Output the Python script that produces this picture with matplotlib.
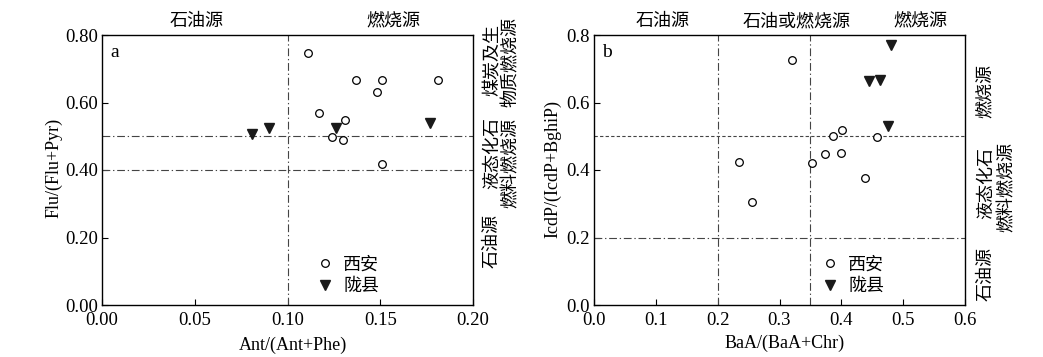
import matplotlib
matplotlib.use('Agg')
import matplotlib.pyplot as plt

plt.rcParams['font.family'] = ['Liberation Serif', 'Noto Sans CJK SC']

# panel a data
a_xian_x = [0.111, 0.117, 0.137, 0.151, 0.148, 0.181, 0.131, 0.124, 0.130, 0.151]
a_xian_y = [0.746, 0.568, 0.667, 0.667, 0.632, 0.667, 0.548, 0.499, 0.489, 0.418]
a_long_x = [0.081, 0.090, 0.126, 0.177]
a_long_y = [0.508, 0.523, 0.523, 0.538]

# panel b data
b_xian_x = [0.320, 0.234, 0.256, 0.352, 0.373, 0.387, 0.401, 0.399, 0.457, 0.438]
b_xian_y = [0.725, 0.424, 0.306, 0.420, 0.446, 0.501, 0.518, 0.450, 0.499, 0.376]
b_long_x = [0.480, 0.445, 0.462, 0.476]
b_long_y = [0.771, 0.663, 0.668, 0.530]

cjk = ['Noto Sans CJK SC']
dashdot = (0, (7, 2.5, 1.2, 2.5))
lc = '#444444'

fig = plt.figure(figsize=(10.43, 3.57), dpi=100)
W, H = 1043, 357
ax1 = fig.add_axes([102 / W, 1 - 305 / H, 371 / W, 270 / H])
ax2 = fig.add_axes([594 / W, 1 - 305 / H, 371 / W, 270 / H])

for ax in (ax1, ax2):
    ax.tick_params(direction='in', labelsize=13.5, length=4, width=0.8)
    ax.tick_params(axis='y', pad=3)
    ax.tick_params(axis='x', pad=5)
    for s in ax.spines.values():
        s.set_linewidth(1.0)

# panel a
ax1.axvline(0.1, color=lc, lw=0.8, ls=dashdot)
ax1.axhline(0.5, color=lc, lw=0.8, ls=dashdot)
ax1.axhline(0.4, color=lc, lw=0.8, ls=dashdot)
ax1.plot(a_xian_x, a_xian_y, 'o', mfc='white', mec='black', ms=5.5, mew=0.9, label='西安')
ax1.plot(a_long_x, a_long_y, 'v', color='#1a1a1a', ms=7.5, label='陇县')
ax1.set_xlim(0, 0.2)
ax1.set_ylim(0, 0.8)
ax1.set_xticks([0, 0.05, 0.1, 0.15, 0.2])
ax1.set_xticklabels(['0.00', '0.05', '0.10', '0.15', '0.20'])
ax1.set_yticks([0, 0.2, 0.4, 0.6, 0.8])
ax1.set_yticklabels(['0.00', '0.20', '0.40', '0.60', '0.80'])
ax1.set_xlabel('Ant/(Ant+Phe)', fontsize=13, va='center')
ax1.set_ylabel('Flu/(Flu+Pyr)', fontsize=13, va='center')
ax1.xaxis.set_label_coords(0.515, -0.148)
ax1.yaxis.set_label_coords(-0.13, 0.509)
ax1.text(0.022, 0.937, 'a', transform=ax1.transAxes, fontsize=14, va='center')
ax1.legend(loc='lower left', bbox_to_anchor=(0.519, -0.023), frameon=False,
           prop={'family': cjk, 'size': 13}, handletextpad=0.2, labelspacing=0.2,
           handlelength=1.6)

# panel b
ax2.axvline(0.2, color=lc, lw=0.8, ls=dashdot)
ax2.axvline(0.35, color=lc, lw=0.8, ls=dashdot)
ax2.axhline(0.5, color=lc, lw=0.8, ls=(0, (3, 2)))
ax2.axhline(0.2, color=lc, lw=0.8, ls=dashdot)
ax2.plot(b_xian_x, b_xian_y, 'o', mfc='white', mec='black', ms=5.5, mew=0.9, label='西安')
ax2.plot(b_long_x, b_long_y, 'v', color='#1a1a1a', ms=7.5, label='陇县')
ax2.set_xlim(0, 0.6)
ax2.set_ylim(0, 0.8)
ax2.set_xticks([0, 0.1, 0.2, 0.3, 0.4, 0.5, 0.6])
ax2.set_yticks([0, 0.2, 0.4, 0.6, 0.8])
ax2.set_xlabel('BaA/(BaA+Chr)', fontsize=13, va='center')
ax2.set_ylabel('IcdP/(IcdP+BghiP)', fontsize=13, va='center')
ax2.xaxis.set_label_coords(0.515, -0.141)
ax2.yaxis.set_label_coords(-0.11, 0.505)
ax2.text(0.022, 0.937, 'b', transform=ax2.transAxes, fontsize=14, va='center')
ax2.legend(loc='lower left', bbox_to_anchor=(0.554, -0.023), frameon=False,
           prop={'family': cjk, 'size': 13}, handletextpad=0.2, labelspacing=0.2,
           handlelength=1.6)

# region labels (figure pixel coords)
def ftext(x, y, s, rot=0, size=13):
    fig.text(x / W, 1 - y / H, s, family=cjk, fontsize=size, rotation=rot,
             ha='center', va='center')

ftext(197, 21, '石油源')
ftext(393, 21, '燃烧源')
ftext(663, 21, '石油源')
ftext(797, 21, '石油或燃烧源')
ftext(920, 21, '燃烧源')

ftext(492, 60, '煤炭及生', rot=90)
ftext(511, 62, '物质燃烧源', rot=90)
ftext(492, 153, '液态化石', rot=90)
ftext(511, 163, '燃料燃烧源', rot=90)
ftext(492, 241, '石油源', rot=90)

ftext(986, 91, '燃烧源', rot=90)
ftext(986, 183, '液态化石', rot=90)
ftext(1007, 187, '燃料燃烧源', rot=90)
ftext(986, 274, '石油源', rot=90)

fig.savefig('out.png', dpi=100)
